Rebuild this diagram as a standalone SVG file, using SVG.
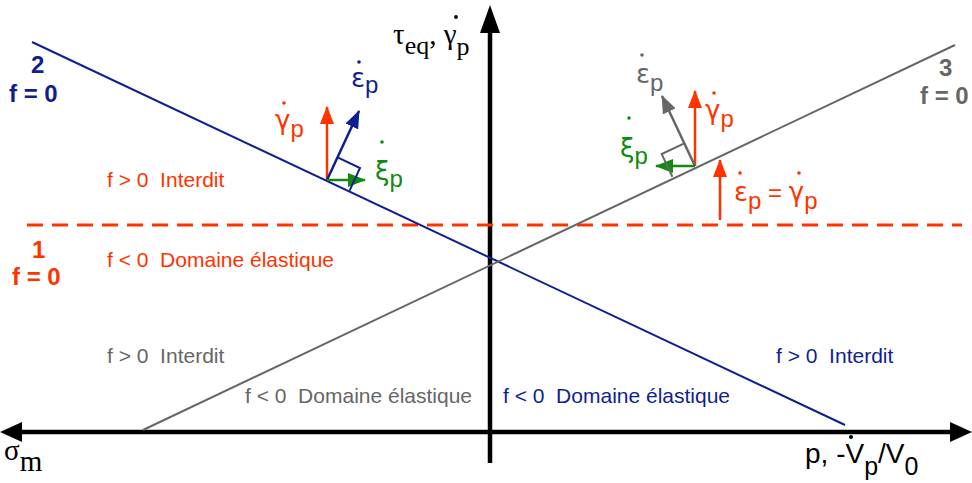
<svg xmlns="http://www.w3.org/2000/svg" width="972" height="483" viewBox="0 0 972 483">
<style>
text{white-space:pre}
.lab{font-family:"Liberation Sans",Arial,Helvetica,sans-serif;font-size:21px}
.big{font-family:"Liberation Sans",Arial,Helvetica,sans-serif;font-size:24px;font-weight:bold}
.sym{font-family:"Liberation Sans",Arial,Helvetica,sans-serif;font-size:24px}
.gk{font-family:"DejaVu Sans",sans-serif;font-size:26px}
.axs{font-family:"Liberation Sans",Arial,Helvetica,sans-serif;font-size:28px}
.sub{font-size:25px}
.ser{font-family:"Liberation Serif","Times New Roman",serif;font-size:29px}
.ssub{font-size:26px}
.red{fill:#ff3300}.blue{fill:#0f1f91}.gray{fill:#666666}.green{fill:#108a10}
.ax{stroke:#000;stroke-width:4.5;fill:none}
</style>
<defs>
<marker id="hr" markerUnits="userSpaceOnUse" markerWidth="18" markerHeight="14" refX="17" refY="7" orient="auto"><path d="M0,0 L18,7 L0,14 z" fill="#ff3300"/></marker>
<marker id="hb" markerUnits="userSpaceOnUse" markerWidth="18" markerHeight="14" refX="17" refY="7" orient="auto"><path d="M0,0 L18,7 L0,14 z" fill="#0f1f91"/></marker>
<marker id="hg" markerUnits="userSpaceOnUse" markerWidth="18" markerHeight="14" refX="17" refY="7" orient="auto"><path d="M0,0 L18,7 L0,14 z" fill="#108a10"/></marker>
<marker id="hy" markerUnits="userSpaceOnUse" markerWidth="18" markerHeight="14" refX="17" refY="7" orient="auto"><path d="M0,0 L18,7 L0,14 z" fill="#666666"/></marker>
</defs>

<g id="connectors">
<line class="ax" x1="490" y1="463" x2="490" y2="28"/>
<polygon points="490,5 480,33 500,33" fill="#000"/>
<line class="ax" x1="20" y1="432" x2="952" y2="432"/>
<polygon points="0,432 22,422 22,442" fill="#000"/>
<polygon points="972,432 950,422 950,442" fill="#000"/>
<line x1="27" y1="225" x2="962" y2="225" stroke="#ff3300" stroke-width="3.2" stroke-dasharray="16 9"/>
<line x1="32" y1="42" x2="845" y2="425" stroke="#0f1f91" stroke-width="2"/>
<line x1="143" y1="430" x2="955" y2="45" stroke="#666666" stroke-width="2"/>

<line x1="327" y1="180" x2="327" y2="107" stroke="#ff3300" stroke-width="2.5" marker-end="url(#hr)"/>
<line x1="327" y1="180" x2="359" y2="111" stroke="#0f1f91" stroke-width="2.5" marker-end="url(#hb)"/>
<line x1="327" y1="180" x2="365" y2="180" stroke="#108a10" stroke-width="2.5" marker-end="url(#hg)"/>
<polyline points="337.6,157.4 360,168 349.6,190.6" fill="none" stroke="#0f1f91" stroke-width="2"/>

<line x1="695" y1="166" x2="695" y2="91" stroke="#ff3300" stroke-width="2.5" marker-end="url(#hr)"/>
<line x1="695" y1="166" x2="662" y2="96" stroke="#666666" stroke-width="2.5" marker-end="url(#hy)"/>
<line x1="695" y1="166" x2="656" y2="166" stroke="#108a10" stroke-width="2.5" marker-end="url(#hg)"/>
<polyline points="684.3,143.4 661.7,154.1 672.4,176.7" fill="none" stroke="#666666" stroke-width="2"/>

<line x1="720" y1="220" x2="720" y2="160" stroke="#ff3300" stroke-width="2.5" marker-end="url(#hr)"/>
</g>

<g id="axis-labels">
<text class="ser" x="393" y="44">τ<tspan class="ssub" dy="10">eq</tspan><tspan dy="-10">, γ</tspan><tspan class="ssub" dy="11">p</tspan></text>
<circle cx="456" cy="17" r="1.9" fill="#000"/>
<text class="ser" x="4" y="460" font-size="26">σ<tspan dy="11">m</tspan></text>
<text class="axs" x="805" y="463">p, -V<tspan class="sub" dy="12">p</tspan><tspan dy="-12">/V</tspan><tspan class="sub" dy="12">0</tspan></text>
<circle cx="851" cy="437" r="2" fill="#000"/>
</g>

<g id="node-line2">
<text class="big blue" x="31" y="73">2</text>
<text class="big blue" x="9" y="102">f = 0</text>
</g>
<g id="node-line3">
<text class="big gray" x="939" y="76">3</text>
<text class="big gray" x="920" y="104">f = 0</text>
</g>
<g id="node-line1">
<text class="big red" x="32" y="258">1</text>
<text class="big red" x="12" y="285">f = 0</text>
</g>

<g id="regions">
<text class="lab red" x="107" y="187">f &gt; 0  Interdit</text>
<text class="lab red" x="107" y="267">f &lt; 0  Domaine élastique</text>
<text class="lab gray" x="107" y="363">f &gt; 0  Interdit</text>
<text class="lab gray" x="245" y="403">f &lt; 0  Domaine élastique</text>
<text class="lab blue" x="503" y="403">f &lt; 0  Domaine élastique</text>
<text class="lab blue" x="776" y="363">f &gt; 0  Interdit</text>
</g>

<g id="vectors-left">
<text class="sym red" x="275" y="129"><tspan class="gk">γ</tspan><tspan dy="8">p</tspan></text>
<circle cx="284" cy="103" r="1.8" fill="#ff3300"/>
<text class="sym blue" x="351" y="87"><tspan class="gk">ε</tspan><tspan dy="6">p</tspan></text>
<circle cx="359" cy="62" r="1.8" fill="#0f1f91"/>
<text class="sym green" x="375" y="180"><tspan class="gk">ξ</tspan><tspan dy="7">p</tspan></text>
<circle cx="382" cy="142" r="1.8" fill="#108a10"/>
</g>
<g id="vectors-right">
<text class="sym gray" x="636" y="83"><tspan class="gk">ε</tspan><tspan dy="8">p</tspan></text>
<circle cx="642" cy="55" r="1.8" fill="#666666"/>
<text class="sym red" x="705" y="119"><tspan class="gk">γ</tspan><tspan dy="8">p</tspan></text>
<circle cx="714" cy="93" r="1.8" fill="#ff3300"/>
<text class="sym green" x="620" y="157"><tspan class="gk">ξ</tspan><tspan dy="7">p</tspan></text>
<circle cx="629" cy="118" r="1.8" fill="#108a10"/>
<text class="sym red" x="734" y="201"><tspan class="gk">ε</tspan><tspan dy="8">p</tspan><tspan dy="-8"> = </tspan><tspan class="gk">γ</tspan><tspan dy="8">p</tspan></text>
<circle cx="740" cy="173" r="1.8" fill="#ff3300"/>
<circle cx="799" cy="173" r="1.8" fill="#ff3300"/>
</g>
</svg>
